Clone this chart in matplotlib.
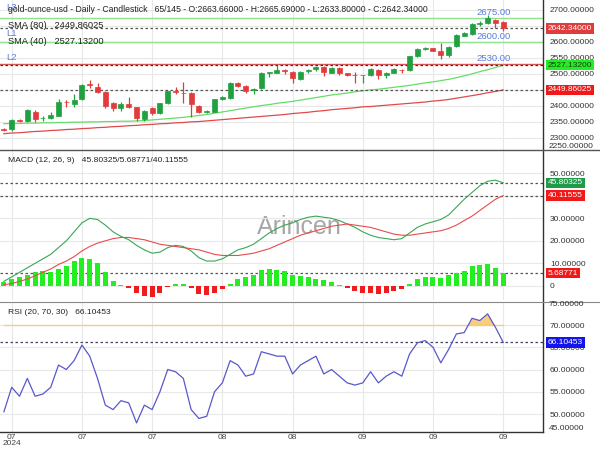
import matplotlib
matplotlib.use("Agg")
import matplotlib.pyplot as plt
import matplotlib.transforms as mtransforms
from matplotlib.lines import Line2D
import numpy as np

plt.rcParams['font.family'] = ['Liberation Sans', 'DejaVu Sans']

# ---------------- data ----------------
opens = [2328, 2328, 2356, 2354, 2382, 2361, 2363, 2369, 2413, 2406,
         2421, 2467, 2458, 2443, 2408, 2393, 2406, 2396, 2358, 2393,
         2377, 2408, 2446, 2441, 2440, 2400, 2381, 2382, 2421, 2424,
         2473, 2462, 2450, 2455, 2503, 2504, 2512, 2507, 2484, 2509,
         2515, 2523, 2504, 2518, 2502, 2498, 2495, 2496, 2512, 2496,
         2504, 2513, 2512, 2556, 2579, 2580, 2572, 2559, 2587, 2619,
         2625, 2657, 2658, 2669, 2663.66]
highs = [2332, 2360, 2359, 2390, 2387, 2369, 2381, 2420, 2417, 2437,
         2469, 2481, 2473, 2446, 2411, 2412, 2429, 2398, 2388, 2397,
         2410, 2447, 2460, 2476, 2442, 2403, 2386, 2423, 2432, 2475,
         2475, 2464, 2456, 2506, 2507, 2528, 2514, 2509, 2510, 2515,
         2526, 2525, 2520, 2520, 2504, 2507, 2498, 2517, 2514, 2506,
         2517, 2515, 2557, 2580, 2585, 2582, 2596, 2588, 2625, 2630,
         2659, 2664, 2684, 2671, 2665.69]
lows = [2322, 2322, 2350, 2350, 2348, 2352, 2360, 2367, 2397, 2398,
        2419, 2457, 2440, 2394, 2385, 2385, 2393, 2352, 2352, 2372,
        2375, 2406, 2438, 2408, 2365, 2378, 2378, 2380, 2418, 2422,
        2460, 2440, 2437, 2453, 2490, 2502, 2500, 2473, 2482, 2504,
        2508, 2492, 2502, 2495, 2494, 2471, 2471, 2494, 2483, 2488,
        2502, 2502, 2510, 2554, 2575, 2571, 2546, 2552, 2585, 2617,
        2623, 2650, 2656, 2643, 2633.80]
closes = [2326, 2356, 2354, 2387, 2358, 2363, 2372, 2412, 2411, 2419,
          2466, 2465, 2443, 2400, 2393, 2406, 2397, 2362, 2385, 2377,
          2408, 2445, 2444, 2439, 2405, 2382, 2383, 2421, 2429, 2473,
          2462, 2448, 2453, 2504, 2505, 2512, 2510, 2486, 2507, 2511,
          2523, 2507, 2518, 2503, 2496, 2496, 2497, 2515, 2496, 2504,
          2515, 2511, 2555, 2577, 2581, 2573, 2558, 2585, 2622, 2627,
          2656, 2659, 2674, 2658, 2642.34]

sma40 = [2344, 2345, 2345, 2346, 2346, 2347, 2347, 2348, 2348, 2349,
         2349, 2350, 2350, 2351, 2351, 2352, 2352, 2353, 2354, 2356,
         2358, 2360, 2362, 2364, 2367, 2370, 2373, 2377, 2381, 2385,
         2389, 2393, 2397, 2401, 2404, 2408, 2411, 2414, 2418, 2422,
         2426, 2430, 2434, 2437, 2440, 2444, 2447, 2450, 2452, 2455,
         2458, 2461, 2464, 2468, 2472, 2475, 2479, 2483, 2488, 2494,
         2500, 2507, 2513, 2520, 2527.132]
sma80 = [2313, 2315, 2316, 2318, 2320, 2321, 2323, 2324, 2326, 2327,
         2329, 2330, 2332, 2333, 2335, 2336, 2338, 2339, 2341, 2342,
         2344, 2345, 2347, 2348, 2350, 2351, 2353, 2355, 2357, 2359,
         2361, 2363, 2365, 2367, 2369, 2371, 2373, 2376, 2378, 2380,
         2383, 2385, 2388, 2390, 2392, 2394, 2397, 2398, 2400, 2402,
         2404, 2406, 2408, 2410, 2412, 2415, 2417, 2420, 2424, 2428,
         2432, 2436, 2441, 2445, 2449.86025]

macd = [2, 4, 6, 8, 10, 12, 14, 17, 20, 24,
        28, 30, 29.5, 27, 24, 22, 20.5, 18, 16, 14.5,
        15, 17, 18, 17.5, 15.5, 12.5, 11, 11, 12, 14,
        16, 17, 18.5, 21, 23.5, 25.5, 27, 28, 29.5, 30.5,
        31, 30.5, 30, 29, 27.5, 26, 24, 22.5, 21.5, 21,
        20.5, 21, 23.5, 26, 27.5, 28.5, 29.5, 31.5, 35, 38.5,
        41.5, 44.5, 46.5, 47, 45.80325]
signal = [0.5, 1, 2, 3, 4.5, 6, 7.5, 9.5, 11, 13,
          15.5, 17.5, 19, 20, 21, 21.5, 21.5, 21, 20.5, 19.5,
          18.5, 18, 17.5, 17, 16.5, 16, 15, 14, 13.5, 13.5,
          13.5, 14, 14.5, 15.5, 16.5, 18, 19.5, 21, 22.5, 23.5,
          24.5, 25.5, 26.5, 27, 27.5, 27, 26.5, 26, 25, 24,
          23, 22.5, 22.5, 23, 23.5, 24, 24.5, 25.5, 27, 29,
          31, 33.5, 36, 38.5, 40.11555]
hist = [1.5, 3, 4, 5, 6, 6.5, 6, 7.5, 9, 11,
        12.5, 12, 10, 6, 2, 0.5, -1, -3, -4.5, -5,
        -3, -0.5, 1, 0.8, -1, -3.5, -4, -3, -1.5, 1,
        3, 4, 5, 7, 7.5, 7, 6.5, 5, 4.5, 4,
        3, 2.5, 1.5, 0.5, -1, -2.5, -3, -3, -3.5, -3,
        -2.5, -1.5, 1, 3, 4, 4, 3.5, 4.9, 5.6, 6.4,
        8.9, 9.2, 9.6, 8.1, 5.68771]
rsi = [50.5, 56, 54, 58, 54, 54.5, 56, 61, 60, 62,
       65.5, 63, 58, 52, 51, 53, 52.5, 48, 52, 51,
       55, 60, 59.5, 58, 51, 49, 49.5, 55, 57, 62,
       61, 58.5, 59, 64, 63.5, 63, 63, 59, 61, 62,
       63, 59, 60, 58.5, 57, 56.5, 57, 59.5, 57, 58.5,
       59.5, 58.5, 63.5, 66, 66.5, 65, 61.5, 64.5, 68, 68.3,
       71.5, 71, 72.5, 69.5, 66.10453]

tick_idx = [1, 10, 19, 28, 37, 46, 55, 64]
tick_labels = ['07\n2024', '07', '07', '08', '08', '09', '09', '09']
price_ticks = [2300, 2350, 2400, 2450, 2500, 2550, 2600, 2650, 2700]
price_hidden = [2450, 2650]          # covered by value boxes in the reference
macd_ticks = [0, 10, 20, 30, 40, 50]
macd_hidden = [40]
rsi_ticks = [50, 55, 60, 65, 70]
levels = {'L1': 2600.0, 'L2': 2530.0, 'L3': 2675.0}

# ---------------- figure ----------------
W, H = 600, 450
fig = plt.figure(figsize=(6, 4.5), dpi=100)
R = 543 / W
ax1 = fig.add_axes([0, 300 / H, R, 150 / H])
ax2 = fig.add_axes([0, 150 / H, R, 150 / H])
ax3 = fig.add_axes([0, 18 / H, R, 130 / H])

n = len(closes)
x = np.arange(n)
XL = (-0.5, 69.1)
grid_c = '#e8e8e8'
tick_c = '#333333'
TFS = 6.0

for ax in (ax1, ax2, ax3):
    ax.set_xlim(*XL)
    for s in ax.spines.values():
        s.set_visible(False)
    ax.yaxis.tick_right()
    ax.tick_params(axis='y', length=0, pad=5, labelsize=TFS, colors=tick_c)
    ax.tick_params(axis='x', length=0)
    ax.set_xticks(tick_idx)
    ax.grid(True, color=grid_c, linewidth=0.8)
    ax.set_axisbelow(True)
    ax.set_facecolor('none')

ax1.set_xticklabels([])
ax2.set_xticklabels([])
ax3.set_xticklabels(tick_labels, fontsize=TFS, color='#444444', linespacing=0.85)
ax3.tick_params(axis='x', pad=1.5)

# price panel
ax1.set_ylim(2262, 2731)
ax1.set_yticks(price_ticks)
ax1.set_yticklabels(['' if v in price_hidden else '%.5f' % v for v in price_ticks])

green_c = '#20a040'
red_c = '#e23b3b'
o = np.array(opens); c = np.array(closes); hi = np.array(highs); lo = np.array(lows)
up = c >= o
cols = np.where(up, green_c, red_c)
ax1.vlines(x, lo, hi, colors=cols, linewidth=0.9, zorder=3)
body_b = np.minimum(o, c)
body_h = np.maximum(np.abs(c - o), 1.2)
ax1.bar(x, body_h, bottom=body_b, width=0.64, color=cols, edgecolor=cols,
        linewidth=0.5, zorder=4)

ax1.plot(x, sma40, color='#66dd66', linewidth=0.9, zorder=2)
ax1.plot(x, sma80, color='#e04a4a', linewidth=0.9, zorder=2)

ax1.axhline(levels['L3'], color='#8fe38f', linewidth=1.0, zorder=1)
ax1.axhline(levels['L1'], color='#8fe38f', linewidth=1.0, zorder=1)
ax1.axhline(levels['L2'], color='#e05555', linewidth=1.0, zorder=1)

dot = (0, (2, 2))
ax1.axhline(closes[-1], color='#555555', linewidth=0.9, linestyle=dot, zorder=2)
ax1.axhline(sma40[-1], color='#333333', linewidth=0.9, linestyle=dot, zorder=2)
ax1.axhline(sma80[-1], color='#555555', linewidth=0.9, linestyle=dot, zorder=2)

lvl_c = '#5b7be0'
for name, v in levels.items():
    ax1.text(60.6, v + 3.5, '%.2f' % v, fontsize=6.8, color=lvl_c,
             va='bottom', ha='left', zorder=5)

# MACD panel
ax2.set_ylim(-6.3, 60.4)
ax2.set_yticks(macd_ticks)
ax2.set_yticklabels(['0' if v == 0 else ('' if v in macd_hidden else '%.5f' % v)
                     for v in macd_ticks])
hcols = ['#22ee22' if v >= 0 else '#ee1c1c' for v in hist]
ax2.bar(x, hist, width=0.64, color=hcols, zorder=2)
ax2.plot(x, macd, color='#3aa655', linewidth=0.8, zorder=3)
ax2.plot(x, signal, color='#e84c4c', linewidth=0.8, zorder=3)
ax2.axhline(macd[-1], color='#555555', linewidth=0.9, linestyle=dot, zorder=1)
ax2.axhline(signal[-1], color='#555555', linewidth=0.9, linestyle=dot, zorder=1)
ax2.axhline(hist[-1], color='#555555', linewidth=0.9, linestyle=dot, zorder=1)
ax2.text(0.552, 0.49, 'Arincen', transform=ax2.transAxes, fontsize=18,
         color='#8a8a8a', alpha=0.75, ha='center', va='center', zorder=0)

# RSI panel
ax3.set_ylim(45.96, 75.17)
ax3.set_yticks(rsi_ticks)
ax3.set_yticklabels(['%.5f' % v for v in rsi_ticks])
rsi_a = np.array(rsi)
ax3.plot([0, n - 1], [70, 70], color='#f2cf8f', linewidth=1.0, zorder=1)
ax3.fill_between(x, 70, rsi_a, where=rsi_a >= 70, interpolate=True,
                 color='#f8c565', alpha=0.85, linewidth=0, zorder=2)
ax3.plot(x, rsi, color='#5858cc', linewidth=0.9, zorder=3)
ax3.axhline(rsi[-1], color='#444466', linewidth=0.9, linestyle=dot, zorder=1)
ax3.spines['bottom'].set_visible(True)
ax3.spines['bottom'].set_color('#333333')
ax3.spines['bottom'].set_linewidth(1.0)

# right axis line across all panels + separators
fig.add_artist(Line2D([R, R], [18 / H, 1], transform=fig.transFigure,
                      color='#333333', linewidth=1.0))
fig.add_artist(Line2D([0, 1], [300 / H, 300 / H], transform=fig.transFigure,
                      color='#555555', linewidth=1.0))
fig.add_artist(Line2D([0, 1], [148 / H, 148 / H], transform=fig.transFigure,
                      color='#888888', linewidth=0.8))

def ftext(px, py, s, **kw):
    fig.text(px / W, 1 - py / H, s, **kw)

# edge tick labels
for px_y, s in [(146.5, '2250.00000'), (304, '75.00000'), (428, '45.00000')]:
    ftext(549, px_y, s, fontsize=TFS, color=tick_c, va='center', ha='left')

# value boxes on the right axis
def vbox(ax, v, s, fc, tc='white'):
    tr = mtransforms.blended_transform_factory(fig.transFigure, ax.transData)
    ax.text(548 / W, v, s, transform=tr, fontsize=TFS, color=tc, va='center',
            ha='left', clip_on=False, zorder=10,
            bbox=dict(boxstyle='square,pad=0.2', fc=fc, ec='none'))

vbox(ax1, closes[-1], '%.5f' % closes[-1], '#e03c3c')
vbox(ax1, sma40[-1], '%.5f' % sma40[-1], '#22ee22', '#1a3a1a')
vbox(ax1, sma80[-1], '%.5f' % sma80[-1], '#f01818')
vbox(ax2, macd[-1], '%.5f' % macd[-1], '#1f9a48')
vbox(ax2, signal[-1], '%.5f' % signal[-1], '#f01818')
vbox(ax2, hist[-1], '%.5f' % hist[-1], '#f01818')
vbox(ax3, rsi[-1], '%.5f' % rsi[-1], '#1414ee')

# panel legends
txt_c = '#222222'
ftext(6, 8, 'L3', fontsize=6.8, color=lvl_c, va='center', ha='left')
ftext(6, 33, 'L1', fontsize=6.8, color=lvl_c, va='center', ha='left')
ftext(6, 57, 'L2', fontsize=6.8, color=lvl_c, va='center', ha='left')
ftext(8, 10, 'gold-ounce-usd - Daily - Candlestick   65/145 - O:2663.66000 - '
      'H:2665.69000 - L:2633.80000 - C:2642.34000', fontsize=6.2, color=txt_c,
      va='center', ha='left')
ftext(8, 25, 'SMA (80)   2449.86025', fontsize=6.7, color=txt_c, va='center', ha='left')
ftext(8, 41, 'SMA (40)   2527.13200', fontsize=6.7, color=txt_c, va='center', ha='left')
ftext(8, 161, 'MACD (12, 26, 9)   45.80325/5.68771/40.11555', fontsize=6.1,
      color=txt_c, va='center', ha='left')
ftext(8, 312, 'RSI (20, 70, 30)   66.10453', fontsize=6.1, color=txt_c,
      va='center', ha='left')

fig.savefig('out.png', dpi=100, facecolor='white')
